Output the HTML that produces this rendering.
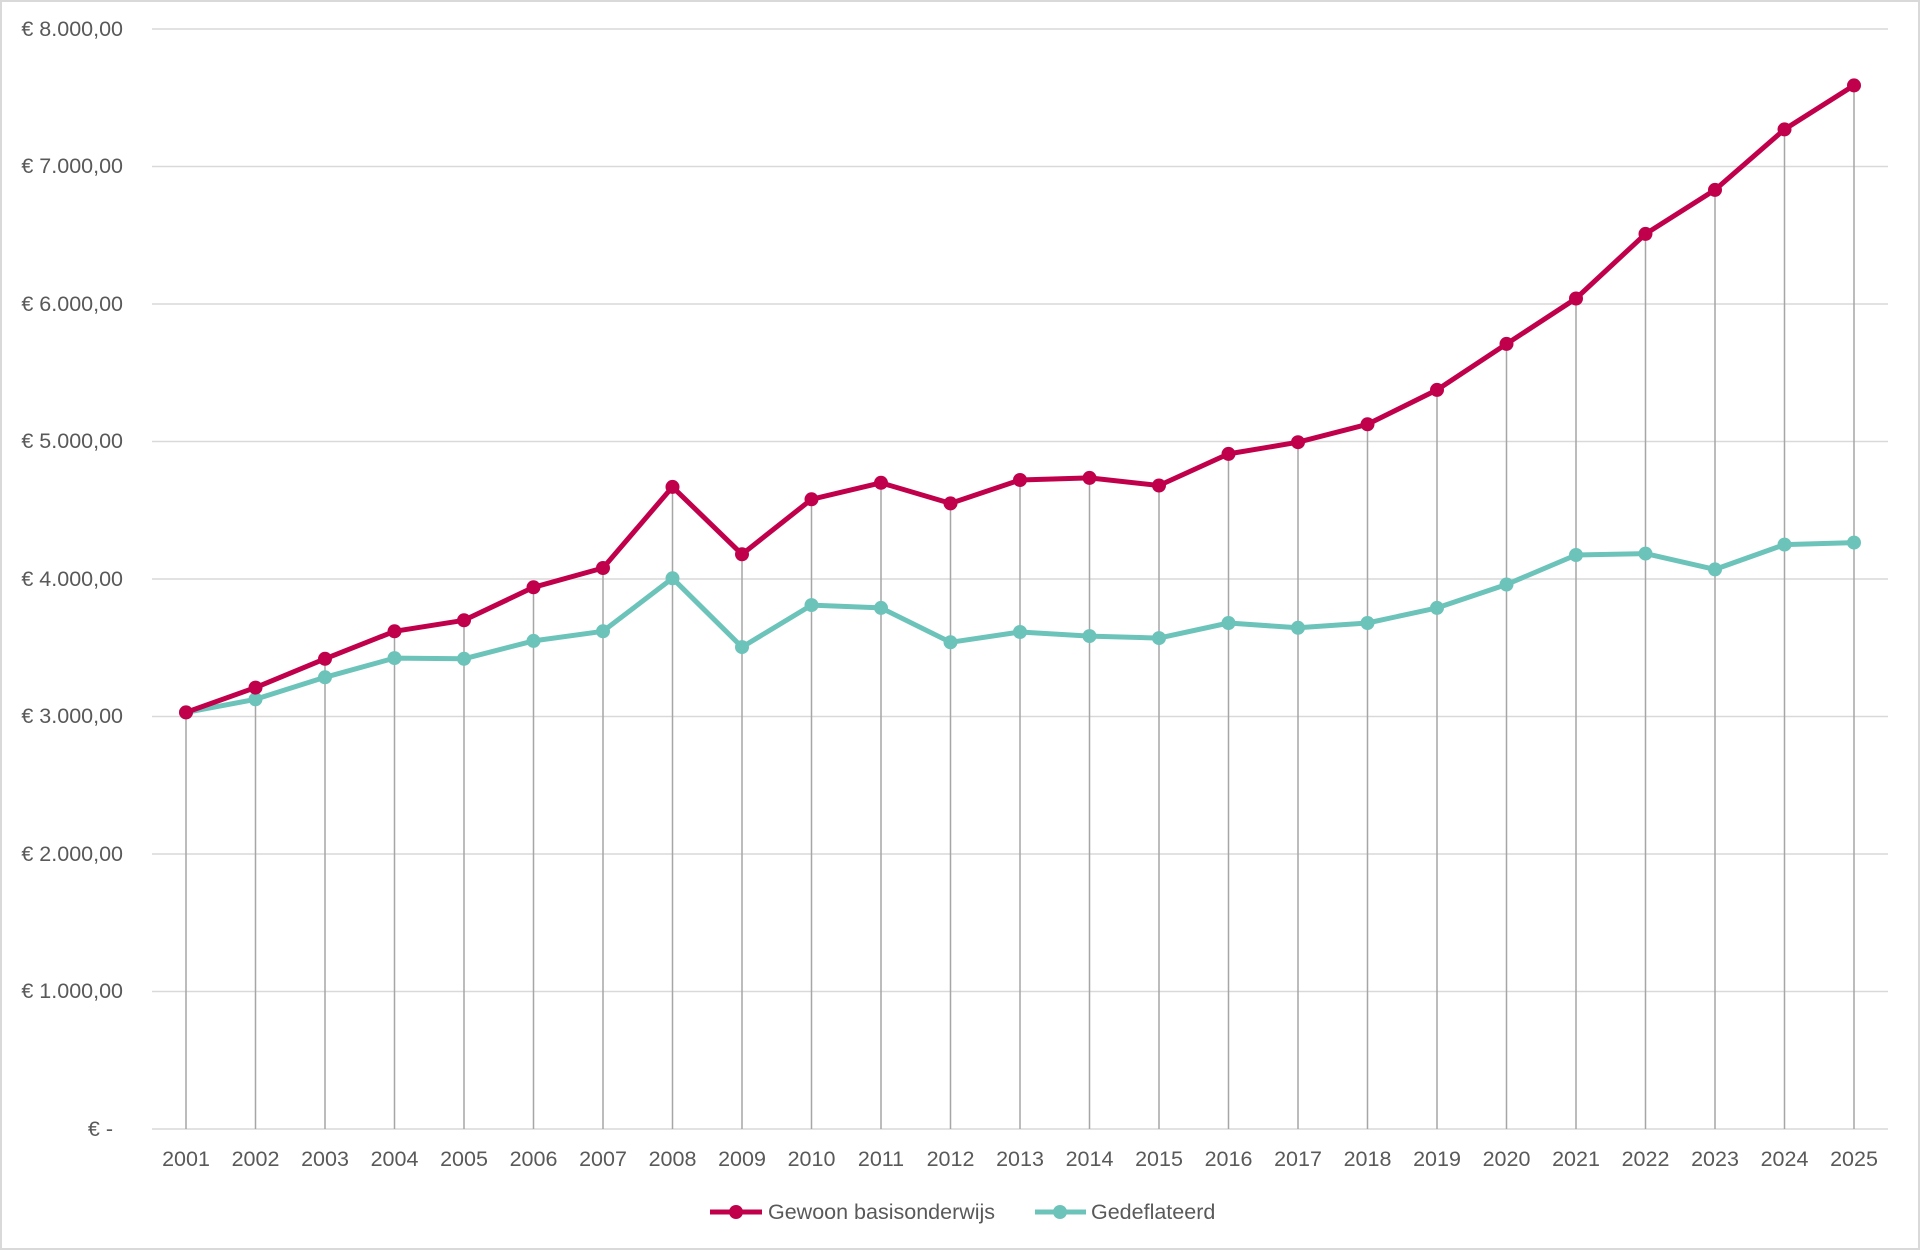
<!DOCTYPE html>
<html><head><meta charset="utf-8"><style>
html,body{margin:0;padding:0;background:#fff}
svg{display:block;font-family:"Liberation Sans",sans-serif}
</style></head><body>
<svg width="1920" height="1250" viewBox="0 0 1920 1250">
<rect x="1" y="1" width="1918" height="1248" fill="#fff" stroke="#d9d9d9" stroke-width="2"/>
<g stroke="#d9d9d9" stroke-width="1.5">
<line x1="152" x2="1888" y1="29" y2="29"/><line x1="152" x2="1888" y1="166.5" y2="166.5"/>
<line x1="152" x2="1888" y1="304" y2="304"/><line x1="152" x2="1888" y1="441.5" y2="441.5"/>
<line x1="152" x2="1888" y1="579" y2="579"/><line x1="152" x2="1888" y1="716.5" y2="716.5"/>
<line x1="152" x2="1888" y1="854" y2="854"/><line x1="152" x2="1888" y1="991.5" y2="991.5"/>
<line x1="152" x2="1888" y1="1129" y2="1129"/>
</g>
<g fill="#595959" font-size="21.5" text-anchor="end">
<text x="123" y="36">€ 8.000,00</text><text x="123" y="173">€ 7.000,00</text>
<text x="123" y="311">€ 6.000,00</text><text x="123" y="448">€ 5.000,00</text>
<text x="123" y="586">€ 4.000,00</text><text x="123" y="723">€ 3.000,00</text>
<text x="123" y="861">€ 2.000,00</text><text x="123" y="998">€ 1.000,00</text>
<text x="113" y="1136">€ -</text>
</g>
<g stroke="#a6a6a6" stroke-width="1.5">
<line x1="186" x2="186" y1="712.4" y2="1129"/><line x1="255.5" x2="255.5" y1="687.6" y2="1129"/>
<line x1="325" x2="325" y1="658.8" y2="1129"/><line x1="394.5" x2="394.5" y1="631.3" y2="1129"/>
<line x1="464" x2="464" y1="620.3" y2="1129"/><line x1="533.5" x2="533.5" y1="587.3" y2="1129"/>
<line x1="603" x2="603" y1="568" y2="1129"/><line x1="672.5" x2="672.5" y1="486.9" y2="1129"/>
<line x1="742" x2="742" y1="554.3" y2="1129"/><line x1="811.5" x2="811.5" y1="499.3" y2="1129"/>
<line x1="881" x2="881" y1="482.8" y2="1129"/><line x1="950.5" x2="950.5" y1="503.4" y2="1129"/>
<line x1="1020" x2="1020" y1="480" y2="1129"/><line x1="1089.5" x2="1089.5" y1="477.9" y2="1129"/>
<line x1="1159" x2="1159" y1="485.5" y2="1129"/><line x1="1228.5" x2="1228.5" y1="453.9" y2="1129"/>
<line x1="1298" x2="1298" y1="442.2" y2="1129"/><line x1="1367.5" x2="1367.5" y1="424.3" y2="1129"/>
<line x1="1437" x2="1437" y1="389.9" y2="1129"/><line x1="1506.5" x2="1506.5" y1="343.9" y2="1129"/>
<line x1="1576" x2="1576" y1="298.5" y2="1129"/><line x1="1645.5" x2="1645.5" y1="233.9" y2="1129"/>
<line x1="1715" x2="1715" y1="189.9" y2="1129"/><line x1="1784.5" x2="1784.5" y1="129.4" y2="1129"/>
<line x1="1854" x2="1854" y1="85.4" y2="1129"/>
</g>
<g fill="#595959" font-size="21.5" text-anchor="middle">
<text x="186" y="1166">2001</text><text x="255.5" y="1166">2002</text><text x="325" y="1166">2003</text>
<text x="394.5" y="1166">2004</text><text x="464" y="1166">2005</text><text x="533.5" y="1166">2006</text>
<text x="603" y="1166">2007</text><text x="672.5" y="1166">2008</text><text x="742" y="1166">2009</text>
<text x="811.5" y="1166">2010</text><text x="881" y="1166">2011</text><text x="950.5" y="1166">2012</text>
<text x="1020" y="1166">2013</text><text x="1089.5" y="1166">2014</text><text x="1159" y="1166">2015</text>
<text x="1228.5" y="1166">2016</text><text x="1298" y="1166">2017</text><text x="1367.5" y="1166">2018</text>
<text x="1437" y="1166">2019</text><text x="1506.5" y="1166">2020</text><text x="1576" y="1166">2021</text>
<text x="1645.5" y="1166">2022</text><text x="1715" y="1166">2023</text><text x="1784.5" y="1166">2024</text>
<text x="1854" y="1166">2025</text>
</g>
<polyline fill="none" stroke="#6cc3ba" stroke-width="5" stroke-linejoin="round" points="186,712.4 255.5,699.3 325,677.3 394.5,658.1 464,658.8 533.5,640.9 603,631.3 672.5,578.3 742,647.1 811.5,605.1 881,607.9 950.5,642.3 1020,632 1089.5,636.1 1159,638.1 1228.5,623 1298,627.8 1367.5,623 1437,607.9 1506.5,584.5 1576,555 1645.5,553.6 1715,569.4 1784.5,544.6 1854,542.6"/>
<g fill="#6cc3ba">
<circle cx="186" cy="712.4" r="7"/><circle cx="255.5" cy="699.3" r="7"/><circle cx="325" cy="677.3" r="7"/><circle cx="394.5" cy="658.1" r="7"/><circle cx="464" cy="658.8" r="7"/><circle cx="533.5" cy="640.9" r="7"/><circle cx="603" cy="631.3" r="7"/><circle cx="672.5" cy="578.3" r="7"/><circle cx="742" cy="647.1" r="7"/><circle cx="811.5" cy="605.1" r="7"/><circle cx="881" cy="607.9" r="7"/><circle cx="950.5" cy="642.3" r="7"/><circle cx="1020" cy="632" r="7"/><circle cx="1089.5" cy="636.1" r="7"/><circle cx="1159" cy="638.1" r="7"/><circle cx="1228.5" cy="623" r="7"/><circle cx="1298" cy="627.8" r="7"/><circle cx="1367.5" cy="623" r="7"/><circle cx="1437" cy="607.9" r="7"/><circle cx="1506.5" cy="584.5" r="7"/><circle cx="1576" cy="555" r="7"/><circle cx="1645.5" cy="553.6" r="7"/><circle cx="1715" cy="569.4" r="7"/><circle cx="1784.5" cy="544.6" r="7"/><circle cx="1854" cy="542.6" r="7"/>
</g>
<polyline fill="none" stroke="#c0004a" stroke-width="5" stroke-linejoin="round" points="186,712.4 255.5,687.6 325,658.8 394.5,631.3 464,620.3 533.5,587.3 603,568 672.5,486.9 742,554.3 811.5,499.3 881,482.8 950.5,503.4 1020,480 1089.5,477.9 1159,485.5 1228.5,453.9 1298,442.2 1367.5,424.3 1437,389.9 1506.5,343.9 1576,298.5 1645.5,233.9 1715,189.9 1784.5,129.4 1854,85.4"/>
<g fill="#c0004a">
<circle cx="186" cy="712.4" r="7"/><circle cx="255.5" cy="687.6" r="7"/><circle cx="325" cy="658.8" r="7"/><circle cx="394.5" cy="631.3" r="7"/><circle cx="464" cy="620.3" r="7"/><circle cx="533.5" cy="587.3" r="7"/><circle cx="603" cy="568" r="7"/><circle cx="672.5" cy="486.9" r="7"/><circle cx="742" cy="554.3" r="7"/><circle cx="811.5" cy="499.3" r="7"/><circle cx="881" cy="482.8" r="7"/><circle cx="950.5" cy="503.4" r="7"/><circle cx="1020" cy="480" r="7"/><circle cx="1089.5" cy="477.9" r="7"/><circle cx="1159" cy="485.5" r="7"/><circle cx="1228.5" cy="453.9" r="7"/><circle cx="1298" cy="442.2" r="7"/><circle cx="1367.5" cy="424.3" r="7"/><circle cx="1437" cy="389.9" r="7"/><circle cx="1506.5" cy="343.9" r="7"/><circle cx="1576" cy="298.5" r="7"/><circle cx="1645.5" cy="233.9" r="7"/><circle cx="1715" cy="189.9" r="7"/><circle cx="1784.5" cy="129.4" r="7"/><circle cx="1854" cy="85.4" r="7"/>
</g>
<line x1="710" x2="762" y1="1212" y2="1212" stroke="#c0004a" stroke-width="5"/>
<circle cx="736" cy="1212" r="7" fill="#c0004a"/>
<text x="768" y="1219" fill="#595959" font-size="21.5">Gewoon basisonderwijs</text>
<line x1="1035" x2="1086" y1="1212" y2="1212" stroke="#6cc3ba" stroke-width="5"/>
<circle cx="1060" cy="1212" r="7" fill="#6cc3ba"/>
<text x="1091" y="1219" fill="#595959" font-size="21.5">Gedeflateerd</text>
</svg>
</body></html>
